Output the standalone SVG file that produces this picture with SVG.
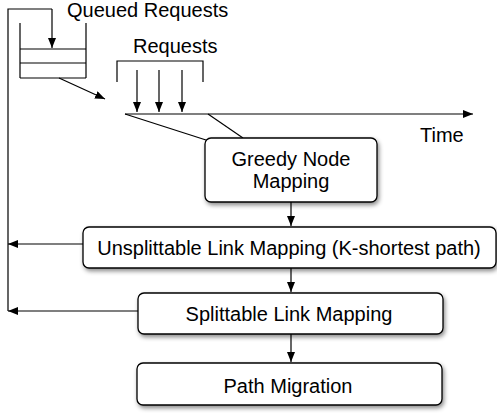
<svg xmlns="http://www.w3.org/2000/svg" width="497" height="414" viewBox="0 0 497 414">
  <style>
    .ln { stroke: #000; stroke-width: 1.2; fill: none; }
    .box { fill: #fff; stroke: #000; stroke-width: 1.3; filter: url(#sh); }
    .t { font-family: "Liberation Sans", Arial, Helvetica, sans-serif; font-size: 20px; fill: #000; }
    .c { text-anchor: middle; }
  </style>
  <defs>
    <marker id="ah" markerUnits="userSpaceOnUse" markerWidth="11" markerHeight="9" refX="10" refY="4" orient="auto">
      <path d="M0,0 L10,4 L0,8 z" fill="#000"/>
    </marker>
    <filter id="sh" x="-10%" y="-20%" width="130%" height="160%">
      <feDropShadow dx="1.5" dy="2.5" stdDeviation="2" flood-color="#000" flood-opacity="0.45"/>
    </filter>
  </defs>

  <g id="queue">
    <path class="ln" d="M20,23 V78 M86,23 V78 M20,49 H86 M20,63 H86 M20,78 H86"/>
    <text class="t" x="67" y="17">Queued Requests</text>
  </g>

  <g id="requests">
    <path class="ln" d="M117,82 V61 H203 V82"/>
    <text class="t" x="133" y="53">Requests</text>
  </g>

  <g id="timeline">
    <text class="t" x="420" y="142">Time</text>
  </g>

  <g id="connectors">
    <path class="ln" d="M52,9 H8 V311"/>
    <path class="ln" d="M52,9 V48" marker-end="url(#ah)"/>
    <path class="ln" d="M59,78 L105,99" marker-end="url(#ah)"/>
    <path class="ln" d="M137,70 V112" marker-end="url(#ah)"/>
    <path class="ln" d="M159,70 V112" marker-end="url(#ah)"/>
    <path class="ln" d="M182,70 V112" marker-end="url(#ah)"/>
    <path class="ln" d="M125,114 H473" marker-end="url(#ah)"/>
    <path class="ln" d="M125,114 L206,140"/>
    <path class="ln" d="M208,114 L243,138"/>
    <path class="ln" d="M291,202 V226" marker-end="url(#ah)"/>
    <path class="ln" d="M291,268 V292" marker-end="url(#ah)"/>
    <path class="ln" d="M291,334 V362" marker-end="url(#ah)"/>
    <path class="ln" d="M83,244 H8" marker-end="url(#ah)"/>
    <path class="ln" d="M138,311 H8" marker-end="url(#ah)"/>
  </g>

  <g id="greedy">
    <rect class="box" x="205" y="138" width="172" height="64" rx="6"/>
    <text class="t c" x="291" y="166">Greedy Node</text>
    <text class="t c" x="291" y="188">Mapping</text>
  </g>

  <g id="unsplittable">
    <rect class="box" x="83" y="227" width="413" height="41" rx="6"/>
    <text class="t c" x="289" y="255">Unsplittable Link Mapping (K-shortest path)</text>
  </g>

  <g id="splittable">
    <rect class="box" x="138" y="293" width="305" height="41" rx="6"/>
    <text class="t c" x="289" y="321">Splittable Link Mapping</text>
  </g>

  <g id="migration">
    <rect class="box" x="137" y="363" width="305" height="42" rx="6"/>
    <text class="t c" x="288" y="393">Path Migration</text>
  </g>
</svg>
